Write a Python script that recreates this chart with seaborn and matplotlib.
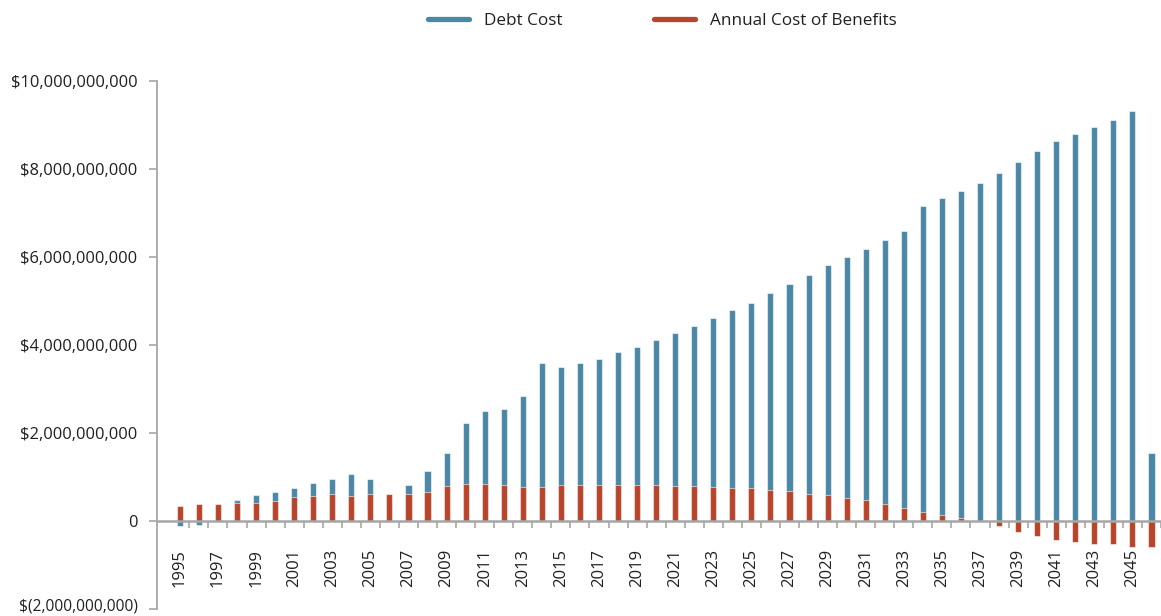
import numpy as np
import pandas as pd
import matplotlib
matplotlib.use("Agg")
import matplotlib.pyplot as plt
from matplotlib.lines import Line2D
from matplotlib.ticker import FuncFormatter, FixedLocator
from matplotlib.transforms import ScaledTranslation
import seaborn as sns

# Fiscal years shown on the horizontal axis
years = list(range(1995, 2047))

# Debt cost per year, in billions of dollars
debt_cost = [
    -0.11, -0.08, 0.35, 0.48, 0.60, 0.66, 0.75, 0.86, 0.95, 1.07,
    0.96, 0.55, 0.81, 1.13, 1.54, 2.22, 2.49, 2.54, 2.83, 3.58,
    3.50, 3.58, 3.68, 3.84, 3.95, 4.12, 4.27, 4.43, 4.61, 4.79,
    4.96, 5.19, 5.39, 5.58, 5.82, 5.99, 6.18, 6.38, 6.58, 7.17,
    7.33, 7.50, 7.68, 7.92, 8.16, 8.40, 8.64, 8.80, 8.95, 9.11,
    9.31, 1.55,
]

# Annual cost of benefits per year, in billions of dollars
benefit_cost = [
    0.34, 0.39, 0.39, 0.42, 0.42, 0.46, 0.54, 0.57, 0.62, 0.57,
    0.62, 0.61, 0.62, 0.65, 0.79, 0.83, 0.83, 0.81, 0.78, 0.78,
    0.82, 0.82, 0.81, 0.81, 0.81, 0.81, 0.79, 0.79, 0.77, 0.76,
    0.74, 0.71, 0.68, 0.62, 0.59, 0.53, 0.48, 0.39, 0.30, 0.21,
    0.13, 0.07, 0.00, -0.11, -0.24, -0.35, -0.43, -0.48, -0.52, -0.52,
    -0.60, -0.59,
]

series_names = ["Debt Cost", "Annual Cost of Benefits"]
y_ticks = [-2e9, 0, 2e9, 4e9, 6e9, 8e9, 10e9]

BLUE = "#4A88A6"
RED = "#B8442A"
GRAY = "#A6A6A6"
TEXT = "#231F20"

sns.set_theme(style="white")
plt.rcParams["font.family"] = ["Open Sans", "DejaVu Sans"]

df = pd.DataFrame({
    "Year": [str(y) for y in years],
    "Debt": np.array(debt_cost) * 1e9,
    "Benefits": np.array(benefit_cost) * 1e9,
})
order = df["Year"].tolist()

fig = plt.figure(figsize=(11.61, 6.16), dpi=100)
ax = fig.add_axes([157 / 1161, 7 / 616, 1004 / 1161, 528 / 616])

edge = (1, 1, 1, 0.55)
sns.barplot(data=df, x="Year", y="Debt", order=order, color=BLUE,
            saturation=1, width=0.32, edgecolor=edge, linewidth=0.8,
            ax=ax, zorder=2)
sns.barplot(data=df, x="Year", y="Benefits", order=order, color=RED,
            saturation=1, width=0.32, edgecolor=edge, linewidth=0.8,
            ax=ax, zorder=3)

ax.set_xlim(-1.2, 51.2)
ax.set_ylim(-2e9, 10e9)
ax.set_xlabel("")
ax.set_ylabel("")

# Y axis: currency labels with accounting-style negatives
def money(v, _pos):
    if v == 0:
        return "0"
    if v < 0:
        return "$({:,.0f})".format(-v)
    return "${:,.0f}".format(v)

ax.yaxis.set_major_locator(FixedLocator(y_ticks))
ax.yaxis.set_major_formatter(FuncFormatter(money))
ax.tick_params(axis="y", which="major", left=True, length=5.5, width=1.2,
               color=GRAY, pad=8.5, labelsize=11.9, labelcolor=TEXT)

# X axis sits on the zero line; labels every other year
ax.spines["bottom"].set_position(("data", 0))
ax.spines["bottom"].set_color(GRAY)
ax.spines["bottom"].set_linewidth(1.8)
ax.spines["bottom"].set_zorder(4)
ax.spines["left"].set_color(GRAY)
ax.spines["left"].set_linewidth(1.3)
ax.spines["top"].set_visible(False)
ax.spines["right"].set_visible(False)

label_pos = list(range(0, len(years), 2))
ax.set_xticks(label_pos)
ax.set_xticklabels([str(years[i]) for i in label_pos], rotation=90,
                   va="top", ha="center")
ax.set_xticks([i + 0.5 for i in range(len(years))], minor=True)
ax.tick_params(axis="x", which="major", bottom=True, length=0, pad=20,
               labelsize=12, labelcolor=TEXT)
ax.tick_params(axis="x", which="minor", bottom=True, length=5, width=1.2,
               color=GRAY, direction="out")
ax.grid(False)

# Keep the lowest axis label inside the canvas
fig.canvas.draw()
low_label = ax.get_yticklabels()[0]
low_label.set_fontsize(11.2)
low_label.set_transform(low_label.get_transform()
                        + ScaledTranslation(0, 3.5 / 72, fig.dpi_scale_trans))

# Legend across the top
handles = [
    Line2D([0], [0], color=BLUE, lw=3.8, solid_capstyle="round"),
    Line2D([0], [0], color=RED, lw=3.8, solid_capstyle="round"),
]
fig.legend(handles, series_names, loc="center", ncol=2,
           bbox_to_anchor=(0.5705, 1 - 21 / 616), frameon=False,
           fontsize=12.3, handlelength=2.4, handletextpad=0.85,
           columnspacing=5.4, labelcolor=TEXT)

fig.savefig("out.png", dpi=100)
